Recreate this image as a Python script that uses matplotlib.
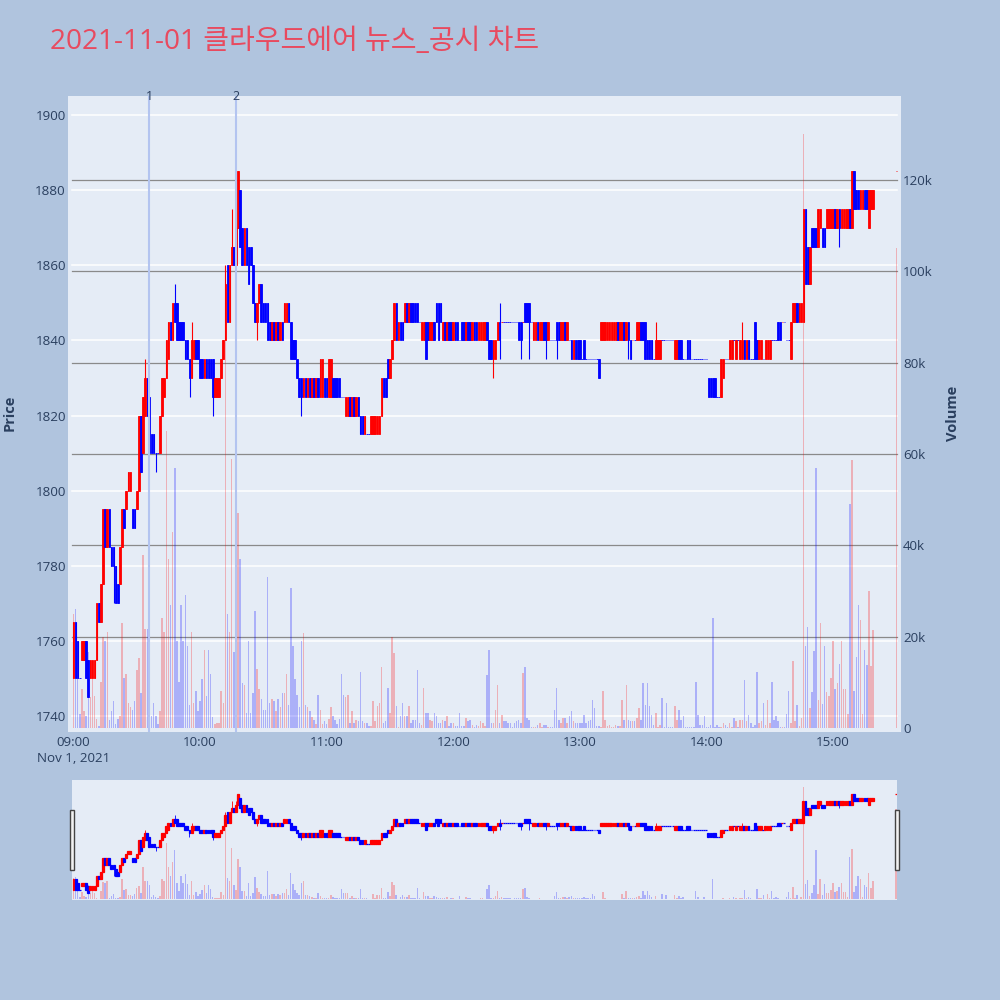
import matplotlib
matplotlib.use("Agg")
import matplotlib.pyplot as plt
import matplotlib.transforms as mtransforms
from matplotlib.patches import Rectangle
import numpy as np
import pandas as pd

# ---------------------------------------------------------------------------
# Data (1-minute candles, 2021-11-01)
# ---------------------------------------------------------------------------

TITLE = "2021-11-01 클라우드에어 뉴스_공시 차트"

minute_times = pd.date_range("2021-11-01 09:00", "2021-11-01 15:19", freq="min")
close_auction = pd.DatetimeIndex(["2021-11-01 15:30"])

opens = [
    1750, 1765, 1760, 1750, 1755, 1755, 1760, 1755, 1750, 1750,
    1750, 1755, 1770, 1765, 1775, 1795, 1785, 1795, 1785, 1785,
    1780, 1775, 1775, 1785, 1795, 1795, 1800, 1800, 1795, 1795,
    1795, 1800, 1820, 1810, 1820, 1830, 1825, 1815, 1815, 1810,
    1810, 1810, 1820, 1825, 1830, 1835, 1845, 1840, 1850, 1850,
    1845, 1845, 1845, 1840, 1840, 1835, 1830, 1835, 1840, 1840,
    1835, 1835, 1830, 1835, 1835, 1835, 1835, 1825, 1825, 1825,
    1830, 1835, 1840, 1860, 1845, 1860, 1865, 1860, 1870, 1880,
    1870, 1860, 1870, 1865, 1865, 1860, 1850, 1845, 1850, 1855,
    1850, 1850, 1850, 1845, 1840, 1845, 1840, 1845, 1840, 1845,
    1845, 1845, 1850, 1845, 1840, 1840, 1835, 1830, 1830, 1825,
    1830, 1825, 1830, 1825, 1830, 1825, 1830, 1825, 1825, 1830,
    1830, 1825, 1825, 1830, 1830, 1830, 1830, 1825, 1825, 1820,
    1820, 1825, 1820, 1825, 1820, 1825, 1820, 1820, 1815, 1815,
    1815, 1815, 1815, 1815, 1815, 1815, 1820, 1830, 1830, 1835,
    1830, 1835, 1840, 1850, 1840, 1845, 1845, 1845, 1850, 1845,
    1850, 1850, 1850, 1850, 1845, 1840, 1840, 1845, 1845, 1840,
    1840, 1845, 1850, 1850, 1850, 1840, 1845, 1840, 1845, 1845,
    1840, 1845, 1845, 1840, 1845, 1845, 1840, 1845, 1845, 1840,
    1845, 1845, 1840, 1840, 1840, 1840, 1845, 1840, 1840, 1835,
    1835, 1840, 1845, 1845, 1845, 1845, 1845, 1845, 1845, 1845,
    1845, 1845, 1845, 1845, 1850, 1850, 1850, 1845, 1840, 1840,
    1845, 1840, 1840, 1845, 1845, 1840, 1840, 1840, 1840, 1845,
    1845, 1840, 1840, 1845, 1840, 1840, 1840, 1835, 1840, 1840,
    1840, 1835, 1840, 1835, 1835, 1835, 1835, 1835, 1835, 1835,
    1840, 1840, 1840, 1840, 1840, 1840, 1840, 1840, 1845, 1840,
    1840, 1845, 1840, 1845, 1840, 1840, 1840, 1840, 1840, 1845,
    1845, 1845, 1840, 1840, 1840, 1835, 1835, 1835, 1835, 1840,
    1840, 1840, 1840, 1840, 1840, 1835, 1835, 1840, 1840, 1835,
    1835, 1840, 1840, 1835, 1835, 1835, 1835, 1835, 1835, 1835,
    1835, 1830, 1830, 1830, 1830, 1825, 1825, 1825, 1830, 1835,
    1835, 1835, 1835, 1840, 1835, 1840, 1835, 1835, 1840, 1835,
    1840, 1835, 1835, 1845, 1840, 1835, 1835, 1835, 1835, 1835,
    1835, 1840, 1840, 1840, 1845, 1845, 1845, 1845, 1840, 1840,
    1835, 1845, 1845, 1850, 1845, 1845, 1845, 1875, 1865, 1855,
    1870, 1870, 1870, 1865, 1870, 1870, 1870, 1870, 1870, 1870,
    1870, 1875, 1870, 1875, 1870, 1870, 1870, 1870, 1875, 1870,
    1885, 1880, 1880, 1875, 1875, 1880, 1880, 1870, 1875, 1875,
    1885,
]
highs = [
    1765, 1765, 1760, 1750, 1760, 1760, 1760, 1755, 1755, 1755,
    1755, 1770, 1770, 1775, 1795, 1795, 1795, 1795, 1785, 1785,
    1780, 1775, 1785, 1795, 1795, 1800, 1805, 1805, 1795, 1795,
    1800, 1820, 1820, 1825, 1835, 1830, 1825, 1815, 1815, 1810,
    1810, 1820, 1830, 1830, 1840, 1845, 1845, 1850, 1855, 1850,
    1845, 1845, 1845, 1840, 1840, 1835, 1845, 1840, 1840, 1840,
    1835, 1835, 1835, 1835, 1835, 1835, 1835, 1830, 1830, 1830,
    1835, 1840, 1860, 1860, 1860, 1875, 1865, 1875, 1885, 1880,
    1870, 1870, 1870, 1865, 1865, 1860, 1850, 1850, 1855, 1855,
    1850, 1850, 1850, 1845, 1845, 1845, 1845, 1845, 1845, 1845,
    1850, 1850, 1850, 1845, 1840, 1840, 1835, 1830, 1830, 1830,
    1830, 1830, 1830, 1830, 1830, 1830, 1830, 1835, 1835, 1830,
    1830, 1835, 1835, 1830, 1830, 1830, 1830, 1825, 1825, 1825,
    1825, 1825, 1825, 1825, 1825, 1825, 1820, 1820, 1820, 1815,
    1815, 1820, 1820, 1820, 1820, 1820, 1830, 1830, 1830, 1835,
    1835, 1840, 1850, 1850, 1845, 1845, 1845, 1850, 1850, 1850,
    1850, 1850, 1850, 1850, 1845, 1845, 1845, 1845, 1845, 1845,
    1845, 1845, 1850, 1850, 1850, 1845, 1845, 1845, 1845, 1845,
    1845, 1845, 1845, 1840, 1845, 1845, 1845, 1845, 1845, 1845,
    1845, 1845, 1845, 1845, 1845, 1845, 1845, 1840, 1840, 1840,
    1840, 1845, 1850, 1845, 1845, 1845, 1845, 1845, 1845, 1845,
    1845, 1845, 1845, 1845, 1850, 1850, 1850, 1845, 1845, 1845,
    1845, 1845, 1845, 1845, 1845, 1845, 1840, 1840, 1840, 1845,
    1845, 1845, 1845, 1845, 1845, 1840, 1840, 1840, 1840, 1840,
    1840, 1835, 1840, 1835, 1835, 1835, 1835, 1835, 1835, 1835,
    1845, 1845, 1845, 1845, 1845, 1845, 1845, 1845, 1845, 1845,
    1845, 1845, 1845, 1845, 1840, 1840, 1840, 1845, 1845, 1845,
    1845, 1845, 1840, 1840, 1840, 1835, 1845, 1840, 1840, 1840,
    1840, 1840, 1840, 1840, 1840, 1840, 1840, 1840, 1840, 1835,
    1835, 1840, 1840, 1835, 1835, 1835, 1835, 1835, 1835, 1835,
    1835, 1830, 1830, 1830, 1830, 1825, 1825, 1835, 1835, 1835,
    1835, 1840, 1840, 1840, 1840, 1840, 1840, 1845, 1840, 1840,
    1840, 1835, 1835, 1845, 1840, 1840, 1840, 1835, 1840, 1840,
    1840, 1840, 1840, 1840, 1845, 1845, 1845, 1845, 1840, 1840,
    1845, 1850, 1850, 1850, 1850, 1850, 1875, 1875, 1865, 1865,
    1870, 1870, 1870, 1875, 1875, 1870, 1870, 1875, 1875, 1875,
    1875, 1875, 1875, 1875, 1875, 1875, 1875, 1875, 1875, 1885,
    1885, 1880, 1880, 1880, 1880, 1880, 1880, 1880, 1880, 1880,
    1885,
]
lows = [
    1750, 1750, 1750, 1750, 1755, 1755, 1750, 1745, 1750, 1750,
    1750, 1755, 1765, 1765, 1775, 1785, 1785, 1785, 1780, 1770,
    1770, 1770, 1775, 1785, 1790, 1795, 1800, 1800, 1790, 1790,
    1795, 1800, 1805, 1810, 1820, 1820, 1810, 1810, 1810, 1805,
    1810, 1810, 1820, 1825, 1830, 1835, 1840, 1840, 1845, 1840,
    1840, 1840, 1840, 1835, 1835, 1825, 1830, 1835, 1835, 1835,
    1830, 1830, 1830, 1830, 1830, 1830, 1820, 1825, 1825, 1825,
    1830, 1835, 1840, 1845, 1845, 1860, 1860, 1860, 1870, 1865,
    1860, 1860, 1860, 1855, 1860, 1850, 1845, 1840, 1850, 1845,
    1845, 1845, 1840, 1840, 1840, 1840, 1840, 1840, 1840, 1840,
    1845, 1845, 1845, 1835, 1835, 1835, 1830, 1825, 1820, 1825,
    1825, 1825, 1825, 1825, 1825, 1825, 1825, 1825, 1825, 1825,
    1825, 1825, 1825, 1825, 1825, 1825, 1825, 1825, 1825, 1820,
    1820, 1820, 1820, 1820, 1820, 1820, 1815, 1815, 1815, 1815,
    1815, 1815, 1815, 1815, 1815, 1815, 1820, 1825, 1825, 1830,
    1830, 1835, 1840, 1840, 1840, 1840, 1840, 1845, 1845, 1845,
    1845, 1845, 1845, 1845, 1845, 1840, 1840, 1835, 1840, 1840,
    1840, 1840, 1845, 1840, 1845, 1840, 1840, 1840, 1840, 1840,
    1840, 1840, 1840, 1840, 1840, 1840, 1840, 1840, 1840, 1840,
    1840, 1840, 1840, 1840, 1840, 1840, 1840, 1835, 1835, 1830,
    1835, 1840, 1835, 1845, 1845, 1845, 1845, 1845, 1845, 1845,
    1845, 1840, 1835, 1845, 1845, 1845, 1835, 1845, 1840, 1840,
    1840, 1840, 1840, 1840, 1835, 1840, 1840, 1840, 1840, 1835,
    1840, 1840, 1840, 1840, 1840, 1840, 1835, 1835, 1835, 1835,
    1835, 1835, 1835, 1835, 1835, 1835, 1835, 1835, 1835, 1830,
    1840, 1840, 1840, 1840, 1840, 1840, 1840, 1840, 1840, 1840,
    1840, 1840, 1840, 1835, 1835, 1840, 1840, 1840, 1840, 1840,
    1840, 1835, 1835, 1835, 1835, 1835, 1835, 1835, 1835, 1840,
    1840, 1840, 1840, 1840, 1840, 1835, 1835, 1835, 1835, 1835,
    1835, 1835, 1835, 1835, 1835, 1835, 1835, 1835, 1835, 1835,
    1835, 1825, 1825, 1825, 1825, 1825, 1825, 1825, 1830, 1835,
    1835, 1835, 1835, 1840, 1835, 1840, 1835, 1835, 1835, 1835,
    1835, 1835, 1835, 1835, 1835, 1835, 1835, 1835, 1835, 1835,
    1835, 1840, 1840, 1840, 1840, 1840, 1845, 1845, 1840, 1840,
    1835, 1845, 1845, 1845, 1845, 1845, 1845, 1855, 1855, 1855,
    1865, 1865, 1865, 1865, 1870, 1865, 1865, 1870, 1870, 1870,
    1870, 1870, 1870, 1865, 1870, 1870, 1870, 1870, 1870, 1870,
    1875, 1875, 1875, 1875, 1875, 1875, 1875, 1870, 1875, 1875,
    1885,
]
closes = [
    1765, 1750, 1750, 1750, 1760, 1760, 1750, 1745, 1755, 1755,
    1755, 1770, 1765, 1775, 1795, 1785, 1795, 1785, 1780, 1780,
    1770, 1770, 1785, 1795, 1790, 1800, 1805, 1805, 1790, 1790,
    1800, 1820, 1805, 1825, 1830, 1820, 1810, 1810, 1810, 1810,
    1810, 1820, 1830, 1830, 1840, 1845, 1840, 1850, 1845, 1840,
    1840, 1840, 1840, 1835, 1835, 1830, 1840, 1840, 1835, 1835,
    1830, 1830, 1835, 1830, 1830, 1830, 1825, 1830, 1830, 1830,
    1835, 1840, 1855, 1845, 1860, 1865, 1860, 1870, 1885, 1865,
    1860, 1870, 1860, 1855, 1860, 1850, 1845, 1850, 1855, 1845,
    1845, 1845, 1840, 1840, 1845, 1840, 1845, 1840, 1845, 1840,
    1850, 1850, 1845, 1835, 1835, 1835, 1830, 1825, 1825, 1830,
    1825, 1830, 1825, 1830, 1825, 1830, 1825, 1835, 1835, 1825,
    1825, 1835, 1835, 1825, 1825, 1825, 1825, 1825, 1825, 1825,
    1825, 1820, 1825, 1820, 1825, 1820, 1815, 1815, 1820, 1815,
    1815, 1820, 1820, 1820, 1820, 1820, 1830, 1825, 1825, 1830,
    1835, 1840, 1850, 1840, 1845, 1840, 1840, 1850, 1845, 1850,
    1845, 1845, 1845, 1845, 1845, 1845, 1845, 1835, 1840, 1845,
    1845, 1840, 1845, 1840, 1845, 1845, 1840, 1845, 1840, 1840,
    1845, 1840, 1840, 1840, 1840, 1840, 1845, 1840, 1840, 1845,
    1840, 1840, 1845, 1845, 1845, 1845, 1840, 1835, 1835, 1840,
    1840, 1845, 1840, 1845, 1845, 1845, 1845, 1845, 1845, 1845,
    1845, 1840, 1840, 1845, 1845, 1845, 1845, 1845, 1845, 1845,
    1840, 1845, 1845, 1840, 1840, 1845, 1840, 1840, 1840, 1840,
    1840, 1845, 1845, 1840, 1845, 1840, 1835, 1840, 1835, 1835,
    1835, 1835, 1835, 1835, 1835, 1835, 1835, 1835, 1835, 1830,
    1845, 1845, 1845, 1845, 1845, 1845, 1845, 1845, 1840, 1845,
    1845, 1840, 1845, 1840, 1835, 1840, 1840, 1845, 1845, 1840,
    1840, 1835, 1835, 1835, 1835, 1835, 1840, 1840, 1840, 1840,
    1840, 1840, 1840, 1840, 1840, 1840, 1840, 1835, 1835, 1835,
    1835, 1835, 1835, 1835, 1835, 1835, 1835, 1835, 1835, 1835,
    1835, 1825, 1825, 1825, 1825, 1825, 1825, 1835, 1835, 1835,
    1835, 1840, 1840, 1840, 1840, 1840, 1840, 1840, 1835, 1840,
    1835, 1835, 1835, 1835, 1835, 1840, 1840, 1835, 1840, 1840,
    1840, 1840, 1840, 1840, 1840, 1840, 1845, 1845, 1840, 1840,
    1845, 1850, 1850, 1845, 1850, 1850, 1875, 1855, 1855, 1865,
    1865, 1865, 1865, 1875, 1875, 1865, 1865, 1875, 1875, 1875,
    1875, 1870, 1875, 1870, 1875, 1875, 1875, 1875, 1870, 1885,
    1875, 1875, 1875, 1880, 1880, 1875, 1875, 1880, 1880, 1880,
    1885,
]
volumes_k = [
    25, 26, 11, 3, 8.5, 3.6, 2.7, 16.7, 6.8, 11,
    7, 2, 0.5, 10, 20, 19, 21, 1.8, 3.6, 5.9,
    0.9, 2, 2.7, 23, 11, 11.7, 5.4, 4.5, 4, 5.9,
    12.6, 15.3, 7.6, 37.8, 21.6, 21.6, 16.7, 2.7, 5.4, 2.7,
    0.9, 3.6, 24, 21, 65, 37, 27, 43, 57, 19,
    10, 27, 19, 29, 18, 5, 21, 5.4, 8, 3.6,
    5.9, 10.8, 17, 7, 17, 11.7, 2.3, 0.9, 1, 1,
    8, 5.4, 93, 25, 21, 59, 16.7, 10.8, 47, 37,
    9.9, 9.5, 3.2, 19, 3.2, 7.6, 25.7, 13, 8.6, 6.3,
    4, 4, 33, 5.4, 6.3, 5.9, 3.6, 6.3, 4.5, 7.6,
    7.6, 11.7, 5, 30.6, 18, 10.8, 7.2, 4.5, 19, 20.7,
    5, 4.5, 3.6, 2.3, 1.8, 0.9, 7.2, 4, 0.9, 1.4,
    0.9, 2, 4.5, 2.7, 1.8, 0.9, 2, 11.7, 7.2, 6.8,
    7.2, 1, 3.6, 1, 1.8, 1.4, 12.3, 1.4, 1, 1,
    0.5, 0.5, 5.8, 1.4, 4.7, 5.4, 13.4, 1, 1.4, 8.7,
    3.2, 20, 16.4, 4.7, 0.3, 2.5, 5.4, 2.5, 2.5, 4.7,
    1, 1.8, 1.8, 12.7, 1, 0.7, 8.7, 3.2, 3.2, 1.8,
    1.4, 3.2, 2.5, 1, 1, 1.8, 1.4, 2.5, 0.5, 1,
    1, 0.5, 0.5, 3.2, 0.5, 0.5, 2.1, 1.4, 1.8, 0.7,
    0.3, 0.7, 0.5, 1.4, 1, 0.5, 11.6, 17, 1, 1,
    4, 9.4, 1, 2.8, 1.4, 1.4, 1, 1, 0.3, 1,
    1.4, 1.8, 1, 12, 13.4, 2.1, 1.8, 0.3, 0.3, 0.3,
    0.7, 1, 0.3, 0.7, 0.7, 0.3, 0.3, 0.3, 4, 8.7,
    1.8, 1, 2.1, 2.1, 1, 2.5, 3.6, 1.4, 1, 1,
    1, 1, 2.8, 1, 1.4, 1.8, 6, 4.3, 0.5, 0.5,
    0.3, 8, 1.8, 0.5, 0.7, 0.3, 0.3, 0.7, 0.5, 0.5,
    6, 1.8, 9.4, 1.8, 1.4, 1.4, 1.4, 2.1, 4.3, 1.8,
    9.8, 5, 9.8, 4.7, 2.8, 0.7, 3.2, 0.3, 0.7, 6.5,
    0.3, 5.4, 0.3, 0.3, 0.3, 4.7, 1.8, 4, 1.8, 2.5,
    0.3, 0.3, 0.3, 0.2, 0.2, 10, 2.8, 0.7, 0.7, 2.5,
    0.3, 0.3, 0.7, 24, 0.3, 0.7, 0.3, 0.3, 1, 0.7,
    0.3, 1, 0.3, 2.1, 1.4, 0.3, 1.8, 1.8, 10.5, 1.4,
    2.8, 1, 0.3, 0.7, 12.3, 1, 1.4, 5.4, 0.7, 6,
    1, 10, 1.8, 2.6, 1.4, 0.3, 0.3, 0.3, 3, 8,
    1, 14.6, 1.4, 5, 0.5, 2.2, 130, 18, 22, 4.3,
    7.8, 16.8, 57, 6, 23, 5.2, 18, 7.8, 7, 11,
    19, 8.6, 9.9, 14, 19, 8.6, 8.6, 3, 49, 58.7,
    8, 15.5, 27, 23.6, 3, 17, 13.7, 30, 13.5, 21.5,
    105,
]

event_times = ["2021-11-01 09:36", "2021-11-01 10:17"]
event_labels = ["1", "2"]

price_ticks = [1740, 1760, 1780, 1800, 1820, 1840, 1860, 1880, 1900]
volume_ticks_k = [0, 20, 40, 60, 80, 100, 120]
hour_ticks = ["09:00", "10:00", "11:00", "12:00", "13:00", "14:00", "15:00"]

# ---------------------------------------------------------------------------
# Style
# ---------------------------------------------------------------------------

PAPER_BG = "#B0C4DE"
PLOT_BG = "#E5ECF6"
UP = "#FF0000"
DOWN = "#0000FF"
TEXT = "#2a3f5f"
TITLE_COLOR = "#E84A5F"
EVENT_COLOR = "#B3C4F0"
VOL_GRID = "#8a8a8a"

PRICE_RANGE = (1735.7, 1905.1)
VOL_RANGE_K = (-0.9, 138.4)
GRID_SPAN = (0.005, 0.995)   # grid lines stop a few px short of the plot edges

plt.rcParams["font.family"] = ["Open Sans", "Noto Sans CJK KR", "DejaVu Sans"]


def to_minutes(ts):
    """Minutes after 09:00 on the trading day."""
    base = pd.Timestamp("2021-11-01 09:00")
    return (pd.DatetimeIndex(ts) - base).total_seconds().to_numpy() / 60.0


times = minute_times.append(close_auction)
x = to_minutes(times)
o = np.array(opens, float)
h = np.array(highs, float)
l = np.array(lows, float)
c = np.array(closes, float)
vol = np.array(volumes_k, float)

# plotly-style direction: flat candles take the sign vs. previous close
prev_c = np.r_[o[0], c[:-1]]
up = (c > o) | ((c == o) & (c > prev_c))
candle_colors = np.where(up, UP, DOWN)
vol_colors = [(1, 0, 0, 0.25) if u else (0, 0, 1, 0.25) for u in up]


def draw_panel(ax_p, ax_v, body_w, wick_lw, edge_lw, vol_w, grids=True):
    ax_p.set_zorder(ax_v.get_zorder() + 1)
    ax_p.patch.set_visible(False)
    ax_v.patch.set_visible(True)
    ax_v.patch.set_facecolor(PLOT_BG)

    if grids:
        by_price = mtransforms.blended_transform_factory(ax_v.transAxes, ax_p.transData)
        by_vol = mtransforms.blended_transform_factory(ax_v.transAxes, ax_v.transData)
        for p in price_ticks:
            ax_v.plot(GRID_SPAN, [p, p], color="white", lw=1.1, transform=by_price, zorder=0)
        for v in volume_ticks_k[1:]:
            ax_v.plot(GRID_SPAN, [v, v], color=VOL_GRID, lw=0.9, transform=by_vol, zorder=0.5)

    ax_v.bar(x, vol, width=vol_w, color=vol_colors, linewidth=0, zorder=1)

    ax_p.vlines(x, l, h, colors=candle_colors, linewidth=wick_lw, zorder=2)
    ax_p.bar(x, c - o, bottom=o, width=body_w, color=candle_colors,
             edgecolor=candle_colors, linewidth=edge_lw, zorder=3)

    ax_p.set_ylim(*PRICE_RANGE)
    ax_v.set_ylim(*VOL_RANGE_K)
    for a in (ax_p, ax_v):
        for s in a.spines.values():
            s.set_visible(False)


# ---------------------------------------------------------------------------
# Figure
# ---------------------------------------------------------------------------

fig = plt.figure(figsize=(10, 10), dpi=100, facecolor=PAPER_BG)

fig.text(0.050, 0.958, TITLE, color=TITLE_COLOR, fontsize=20.2,
         ha="left", va="center")

# main chart
ax = fig.add_axes([0.068, 0.268, 0.833, 0.636])
axv = ax.twinx()
draw_panel(ax, axv, body_w=0.75, wick_lw=0.8, edge_lw=0.6, vol_w=0.7)
ax.set_xlim(-2.6, 392.2)

ax.set_yticks(price_ticks)
ax.set_yticklabels([str(p) for p in price_ticks])
axv.set_yticks(volume_ticks_k)
axv.set_yticklabels(["0" if v == 0 else f"{v}k" for v in volume_ticks_k])
ax.tick_params(axis="y", length=0, pad=1.5, labelsize=9.6, labelcolor=TEXT)
axv.tick_params(axis="y", length=0, pad=1.5, labelsize=9.6, labelcolor=TEXT)

hx = to_minutes(pd.to_datetime(["2021-11-01 " + t for t in hour_ticks]))
ax.set_xticks(hx)
labels = list(hour_ticks)
labels[0] = labels[0] + "\nNov 1, 2021"
ax.set_xticklabels(labels)
ax.tick_params(axis="x", length=0, pad=3, labelsize=9.6, labelcolor=TEXT)
for lbl in ax.get_xticklabels():
    lbl.set_linespacing(1.3)

# event markers
for t, lab in zip(event_times, event_labels):
    ex = to_minutes([t])[0]
    ax.axvline(ex, color=EVENT_COLOR, lw=1.5, zorder=4)
    ax.text(ex, PRICE_RANGE[1], lab, ha="center", va="center",
            fontsize=9, color=TEXT, zorder=5)

fig.text(0.010, 0.587, "Price", rotation=90, ha="center", va="center",
         fontsize=10.5, fontweight="bold", color=TEXT)
fig.text(0.953, 0.587, "Volume", rotation=90, ha="center", va="center",
         fontsize=10.5, fontweight="bold", color=TEXT)

# range slider
axs = fig.add_axes([0.072, 0.100, 0.825, 0.120])
axsv = axs.twinx()
draw_panel(axs, axsv, body_w=0.9, wick_lw=0.6, edge_lw=0.9, vol_w=0.7, grids=False)
axs.set_xlim(-0.7, 390.4)
for a in (axs, axsv):
    a.set_xticks([])
    a.set_yticks([])

for hx0 in (0.0695, 0.8950):
    fig.patches.append(Rectangle((hx0, 0.130), 0.0040, 0.060, transform=fig.transFigure,
                                 facecolor="#f2f2f2", edgecolor="#444444", lw=1.0))

fig.savefig("out.png", dpi=100, facecolor=PAPER_BG)
